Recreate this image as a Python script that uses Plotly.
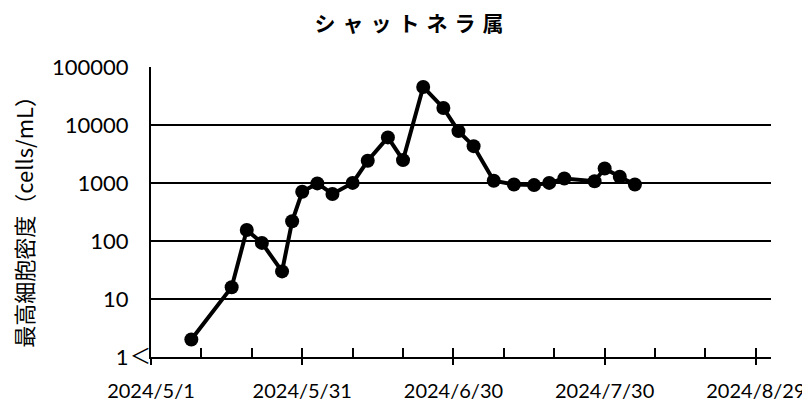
import plotly.graph_objects as go

dates = ["2024-05-09", "2024-05-17", "2024-05-20", "2024-05-23", "2024-05-27", "2024-05-29",
         "2024-05-31", "2024-06-03", "2024-06-06", "2024-06-10", "2024-06-13", "2024-06-17",
         "2024-06-20", "2024-06-24", "2024-06-28", "2024-07-01", "2024-07-04", "2024-07-08",
         "2024-07-12", "2024-07-16", "2024-07-19", "2024-07-22", "2024-07-28", "2024-07-30",
         "2024-08-02", "2024-08-05"]
density = [2, 16, 155, 93, 30, 220,
           710, 990, 650, 1010, 2430, 6150,
           2500, 45700, 19800, 7900, 4350, 1100,
           950, 925, 1010, 1200, 1080, 1790,
           1290, 950]

ytick_vals = [1, 10, 100, 1000, 10000, 100000]
ytick_text = ["1", "10", "100", "1000", "10000", "100000"]

title_text = "シャットネラ属"
ytitle_text = "最高細胞密度（cells/mL）"

DAY = 86400000
font_num = "Lato, 'Noto Sans', sans-serif"
font_jp = "'Noto Sans CJK JP', sans-serif"

# the page body has an 8px margin, so the figure is drawn 8px smaller
W, H = 802, 398

fig = go.Figure()
fig.add_trace(go.Scatter(
    x=dates, y=density, mode="lines+markers",
    line=dict(color="black", width=4),
    marker=dict(color="black", size=14),
    showlegend=False,
))
# invisible trace to carry the inside-tick overlay axis
fig.add_trace(go.Scatter(
    x=dates, y=density, xaxis="x2", mode="markers",
    marker=dict(opacity=0), hoverinfo="skip", showlegend=False,
))

fig.update_layout(
    width=W, height=H,
    margin=dict(l=143, r=39, t=59, b=49, autoexpand=False),
    paper_bgcolor="white", plot_bgcolor="white",
    title=dict(text="\u2004".join(title_text), x=0.5, xref="container", xanchor="center",
               y=1 - 16 / H, yref="container", yanchor="middle",
               font=dict(family=font_jp, size=21, color="black", weight="bold")),
    xaxis=dict(
        type="date", range=["2024-05-01", "2024-09-01"], automargin=False,
        tickmode="linear", tick0="2024-05-01", dtick=30 * DAY,
        tickformat="%Y/%-m/%-d", ticklabeloverflow="allow",
        ticks="outside", ticklen=6, tickwidth=2, tickcolor="black",
        showline=True, linewidth=2, linecolor="black",
        showgrid=False, zeroline=False,
        ticklabelstandoff=9,
        tickfont=dict(family=font_num, size=20, color="black"),
    ),
    xaxis2=dict(
        type="date", range=["2024-05-01", "2024-09-01"], overlaying="x", anchor="y",
        side="bottom", automargin=False,
        tickmode="linear", tick0="2024-05-01", dtick=10 * DAY,
        ticks="inside", ticklen=9, tickwidth=1.5, tickcolor="black",
        showticklabels=False, showgrid=False, showline=False, zeroline=False,
    ),
    yaxis=dict(
        type="log", range=[0, 5.004], automargin=False,
        tickmode="array", tickvals=ytick_vals, ticktext=ytick_text,
        ticks="", showgrid=True, gridcolor="black", gridwidth=1.5,
        showline=True, linewidth=2, linecolor="black", zeroline=False,
        ticklabelstandoff=16,
        tickfont=dict(family=font_num, size=22, color="black"),
    ),
    annotations=[
        dict(text="＜", xref="paper", yref="y", x=0, y=0, xanchor="right", yanchor="middle",
             xshift=2, yshift=3, showarrow=False,
             font=dict(family=font_jp, size=21, color="black")),
        dict(text=ytitle_text, xref="paper", yref="paper", x=(15 - 143) / 620, y=0.484,
             xanchor="center", yanchor="middle", textangle=-90, showarrow=False,
             font=dict(family=font_jp, size=22, color="black")),
    ],
)

fig.write_html("out.html")
